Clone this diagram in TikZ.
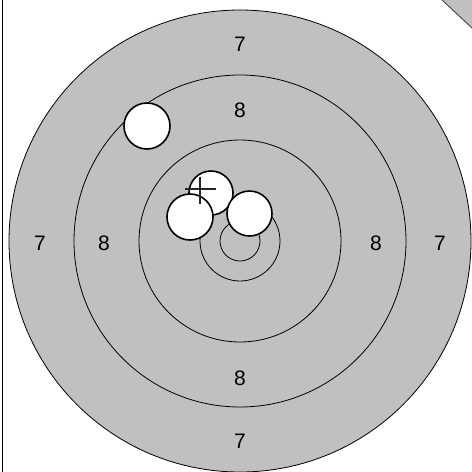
\documentclass[tikz,border=0pt]{standalone}
\usepackage{fontspec}
\setmainfont{Liberation Sans}
\definecolor{target}{HTML}{C0C0C0}
\tikzset{
  ring/.style={draw=black,line width=0.8pt},
  shot/.style={draw=black,fill=white,line width=1.6pt},
  score/.style={font=\fontsize{21}{25}\selectfont,inner sep=0pt}
}
\begin{document}
\begin{tikzpicture}[x=1pt,y=-1pt]
  \useasboundingbox[fill=white] (0,0) rectangle (472,472);

  % frame
  \draw[line width=1pt] (2,0) -- (2,472);
  \fill[target] (442,0) -- (472,28) -- (472,0) -- cycle;
  \draw[line width=0.8pt,draw=black!80] (442,0) -- (472,28);

  % rings
  \coordinate (c) at (240,241);
  \draw[ring,fill=target] (c) circle (231pt);
  \foreach \r in {166,101,40,20}
    \draw[ring] (c) circle (\r pt);

  % scores
  \node[score] (top7) at (240,44) {7};
  \node[score] (top8) at (240,110) {8};
  \node[score] (left7) at (40,243) {7};
  \node[score] (left8) at (104,243) {8};
  \node[score] (right8) at (376,243) {8};
  \node[score] (right7) at (440,243) {7};
  \node[score] (bottom8) at (240,378) {8};
  \node[score] (bottom7) at (240,441) {7};

  % shots
  \draw[shot] (147,126) circle (23pt);
  \draw[shot] (211,193) circle (22pt);
  \draw[shot] (249.5,213.5) circle (22.5pt);
  \draw[shot] (190,217) circle (23pt);

  % aim mark
  \draw[line width=1.1pt,draw=black!85] (185,189) -- (216,189);
  \draw[line width=1.1pt,draw=black!85] (200,177) -- (200,204);
\end{tikzpicture}
\end{document}
